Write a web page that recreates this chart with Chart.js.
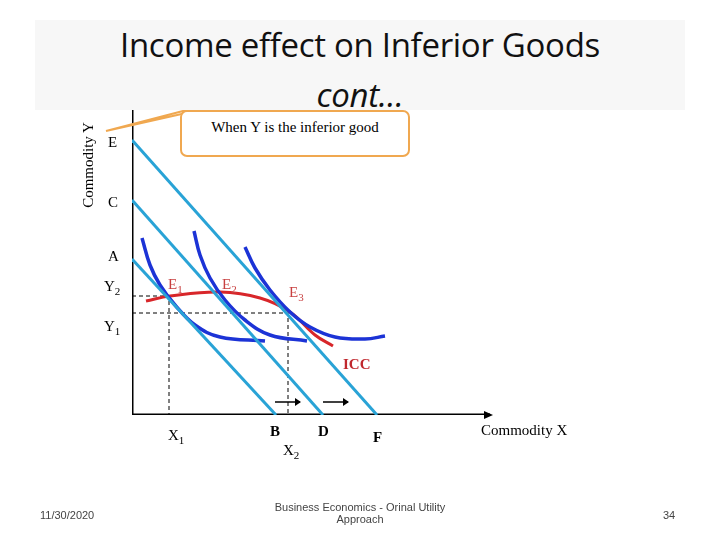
<!DOCTYPE html>
<html><head><meta charset="utf-8">
<script src="https://cdn.jsdelivr.net/npm/chart.js@4"></script>
<style>
body{margin:0;width:720px;height:540px;background:#fff;position:relative;overflow:hidden;font-family:"Liberation Serif",serif}
#c{position:absolute;left:0;top:0}
.l{position:absolute;font-size:15px;color:#000;white-space:nowrap}
.r{color:#c0272d}
.e{color:#c84040}
sub{font-size:11px}
#tb{position:absolute;left:35px;top:20px;width:650px;height:90px;background:#f7f7f7;overflow:hidden}
#tt{position:absolute;left:0;top:0px;width:100%;text-align:center;font-family:"Open Sans",sans-serif;font-size:33px;line-height:50px;color:#111;letter-spacing:-0.3px}
#call{position:absolute;left:180px;top:110px;width:230px;height:47px;border:2px solid #f0a850;border-radius:7px;background:#fff;box-sizing:border-box;text-align:center;font-size:15px;padding-top:7px}
.f{position:absolute;font-family:"Liberation Sans",sans-serif;font-size:11px;color:#444;text-align:center}
</style></head><body>
<div id="tb"><div id="tt">Income effect on Inferior Goods<br><i>cont…</i></div></div>
<canvas id="c" width="720" height="540"></canvas>
<div id="call">When Y is the inferior good</div>
<div class="l" style="top:165px;transform:translate(-50%,-50%) rotate(-90deg);left:88px">Commodity Y</div>
<div class="l" style="left:108px;top:134px">E</div>
<div class="l" style="left:108px;top:194px">C</div>
<div class="l" style="left:108px;top:248px">A</div>
<div class="l" style="left:104px;top:278px">Y<sub>2</sub></div>
<div class="l" style="left:104px;top:318px">Y<sub>1</sub></div>
<div class="l e" style="left:168px;top:276px">E<sub>1</sub></div>
<div class="l e" style="left:222px;top:276px">E<sub>2</sub></div>
<div class="l e" style="left:289px;top:284px">E<sub>3</sub></div>
<div class="l r" style="left:343px;top:356px;font-weight:bold">ICC</div>
<div class="l" style="left:168px;top:427px">X<sub>1</sub></div>
<div class="l" style="left:270px;top:423px;font-weight:bold">B</div>
<div class="l" style="left:283px;top:442px">X<sub>2</sub></div>
<div class="l" style="left:318px;top:423px;font-weight:bold">D</div>
<div class="l" style="left:373px;top:429px;font-weight:bold">F</div>
<div class="l" style="left:481px;top:422px">Commodity X</div>
<div class="f" style="left:40px;top:509px">11/30/2020</div>
<div class="f" style="left:255px;top:501px;width:210px">Business Economics - Orinal Utility Approach</div>
<div class="f" style="left:663px;top:509px">34</div>
<script>
// data in units relative to origin
const axisY=[{x:0,y:305},{x:0,y:0}];
const axisX=[{x:0,y:0},{x:358,y:0}];
const budget1=[{x:0,y:156},{x:144,y:0}];
const budget2=[{x:0,y:215},{x:191,y:0}];
const budget3=[{x:0,y:275},{x:245,y:0}];
const ic1=[{x:10,y:177},{x:18,y:150},{x:28,y:130},{x:43,y:110},{x:63,y:90},{x:88,y:78},{x:133,y:74}];
const ic2=[{x:62,y:184},{x:68,y:160},{x:78,y:137},{x:93,y:115},{x:113,y:95},{x:138,y:80},{x:175,y:74}];
const ic3=[{x:113,y:168},{x:123,y:147},{x:138,y:125},{x:158,y:103},{x:178,y:88},{x:203,y:78},{x:233,y:76},{x:253,y:79}];
const icc=[{x:14,y:114},{x:38,y:119},{x:88,y:123},{x:128,y:117},{x:158,y:103},{x:183,y:80},{x:201,y:69}];
const dash1=[{x:0,y:119},{x:37,y:119},{x:37,y:0}];
const dash2=[{x:0,y:102},{x:156,y:102},{x:156,y:0}];
const arrow1=[{x:143,y:13},{x:168,y:13}];
const arrow2=[{x:191,y:13},{x:216,y:13}];
const lb='#29a3d6',db='#1c33d6',rd='#d8262a';
function ds(d,c,w,extra){return Object.assign({data:d,showLine:true,borderColor:c,borderWidth:w,pointRadius:0,tension:0.4,fill:false},extra||{});}
const arrowHead={id:'ah',afterDatasetsDraw(ch){const c=ch.ctx,xs=ch.scales.x,ys=ch.scales.y;
 c.save();c.fillStyle='#000';
 const tri=(x,y,dx)=>{c.beginPath();c.moveTo(x+dx,y);c.lineTo(x,y-4);c.lineTo(x,y+4);c.closePath();c.fill();};
 tri(xs.getPixelForValue(358)-6,ys.getPixelForValue(0),9);
 tri(xs.getPixelForValue(168)-5,ys.getPixelForValue(13),6);
 tri(xs.getPixelForValue(216)-5,ys.getPixelForValue(13),6);
 // callout pointer
 c.strokeStyle='#f0a850';c.fillStyle='#fff';c.lineWidth=2;c.beginPath();c.moveTo(183,111);c.lineTo(106,131);c.lineTo(195,111);c.closePath();c.fill();c.stroke();
 c.restore();}};
new Chart(document.getElementById('c'),{type:'scatter',
 data:{datasets:[
  ds(budget1,lb,3,{tension:0}),ds(budget2,lb,3,{tension:0}),ds(budget3,lb,3,{tension:0}),
  ds(ic1,db,3.5),ds(ic2,db,3.5),ds(ic3,db,3.5),
  ds(icc,rd,3),
  ds(dash1,'#000',1,{tension:0,borderDash:[4,3]}),ds(dash2,'#000',1,{tension:0,borderDash:[4,3]}),
  ds(arrow1,'#000',1.5,{tension:0}),ds(arrow2,'#000',1.5,{tension:0}),
  ds(axisY,'#000',3,{tension:0}),ds(axisX,'#000',3,{tension:0})]},
 options:{responsive:false,animation:false,devicePixelRatio:1,
  layout:{padding:{left:132,right:0,top:0,bottom:125}},
  plugins:{legend:{display:false},tooltip:{enabled:false}},
  scales:{x:{type:'linear',min:0,max:588,display:false},y:{type:'linear',min:0,max:415,display:false}}},
 plugins:[arrowHead]});
</script>
</body></html>
